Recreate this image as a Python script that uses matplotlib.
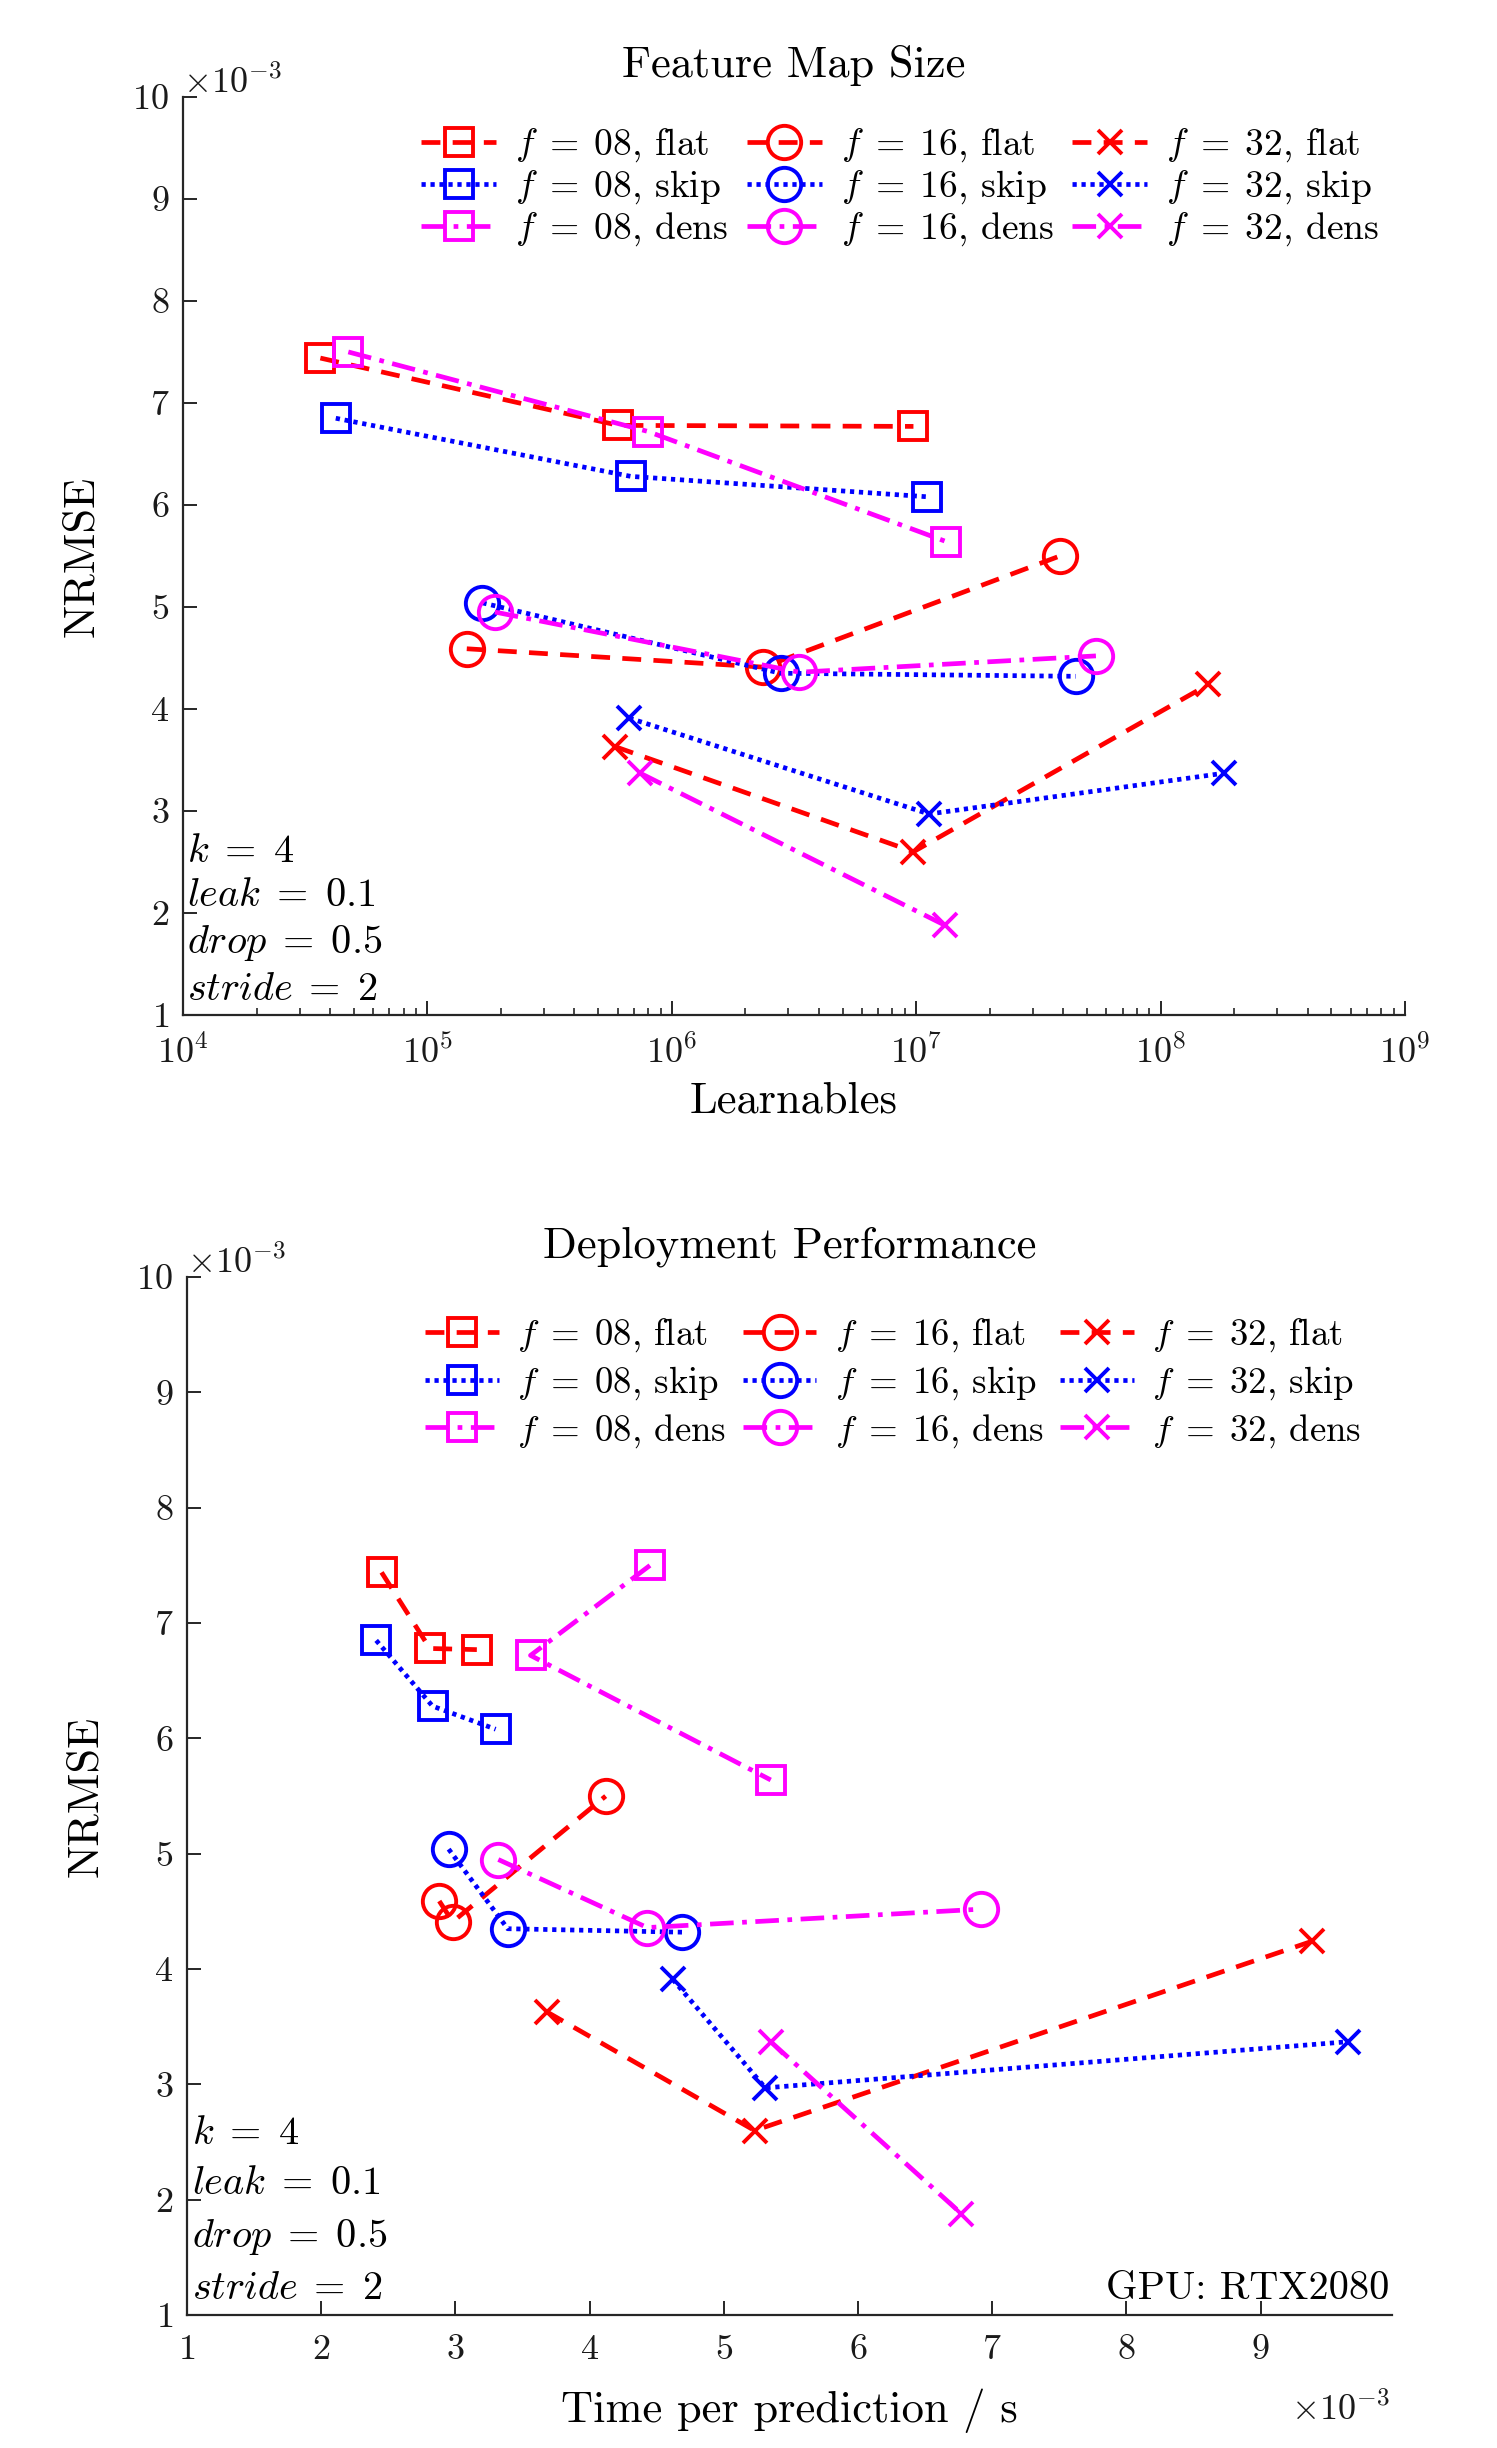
import numpy as np
import matplotlib
matplotlib.use('Agg')
import matplotlib.pyplot as plt
from matplotlib.ticker import ScalarFormatter, LogLocator, NullFormatter, FixedLocator

plt.rcParams['font.family'] = ['cmr10', 'DejaVu Serif']
plt.rcParams['mathtext.fontset'] = 'cm'
plt.rcParams['axes.formatter.use_mathtext'] = True

# ---------------- data ----------------
filters = ['08', '16', '32']
variants = ['flat', 'skip', 'dens']

# Learnables (number of parameters)
learn_08_flat = [3.65e4, 6.05e5, 9.75e6]
learn_08_skip = [4.22e4, 6.80e5, 1.11e7]
learn_08_dens = [4.75e4, 8.00e5, 1.33e7]
learn_16_flat = [1.45e5, 2.37e6, 3.88e7]
learn_16_skip = [1.68e5, 2.79e6, 4.50e7]
learn_16_dens = [1.89e5, 3.33e6, 5.44e7]
learn_32_flat = [5.87e5, 9.75e6, 1.57e8]
learn_32_skip = [6.70e5, 1.13e7, 1.82e8]
learn_32_dens = [7.43e5, 1.31e7]

# NRMSE (x 1e-3)
nrmse_08_flat = [7.44, 6.78, 6.77]
nrmse_08_skip = [6.85, 6.28, 6.08]
nrmse_08_dens = [7.50, 6.72, 5.64]
nrmse_16_flat = [4.59, 4.41, 5.50]
nrmse_16_skip = [5.04, 4.35, 4.32]
nrmse_16_dens = [4.95, 4.36, 4.52]
nrmse_32_flat = [3.63, 2.60, 4.24]
nrmse_32_skip = [3.91, 2.97, 3.37]
nrmse_32_dens = [3.37, 1.88]

# Time per prediction (x 1e-3 s)
time_08_flat = [2.45, 2.81, 3.16]
time_08_skip = [2.41, 2.83, 3.30]
time_08_dens = [4.45, 3.56, 5.35]
time_16_flat = [2.88, 2.98, 4.12]
time_16_skip = [2.95, 3.39, 4.69]
time_16_dens = [3.32, 4.43, 6.92]
time_32_flat = [3.68, 5.23, 9.38]
time_32_skip = [4.62, 5.31, 9.65]
time_32_dens = [5.35, 6.77]

learn = {('08', 'flat'): learn_08_flat, ('08', 'skip'): learn_08_skip, ('08', 'dens'): learn_08_dens,
         ('16', 'flat'): learn_16_flat, ('16', 'skip'): learn_16_skip, ('16', 'dens'): learn_16_dens,
         ('32', 'flat'): learn_32_flat, ('32', 'skip'): learn_32_skip, ('32', 'dens'): learn_32_dens}
nrmse = {('08', 'flat'): nrmse_08_flat, ('08', 'skip'): nrmse_08_skip, ('08', 'dens'): nrmse_08_dens,
         ('16', 'flat'): nrmse_16_flat, ('16', 'skip'): nrmse_16_skip, ('16', 'dens'): nrmse_16_dens,
         ('32', 'flat'): nrmse_32_flat, ('32', 'skip'): nrmse_32_skip, ('32', 'dens'): nrmse_32_dens}
times = {('08', 'flat'): time_08_flat, ('08', 'skip'): time_08_skip, ('08', 'dens'): time_08_dens,
         ('16', 'flat'): time_16_flat, ('16', 'skip'): time_16_skip, ('16', 'dens'): time_16_dens,
         ('32', 'flat'): time_32_flat, ('32', 'skip'): time_32_skip, ('32', 'dens'): time_32_dens}

# ---------------- style ----------------
colors = {'flat': '#FF0000', 'skip': '#0000FF', 'dens': '#FF00FF'}
markers = {'08': 's', '16': 'o', '32': 'x'}
msizes = {'08': 20, '16': 24, '32': 17}
lstyles = {'flat': (0, (4.0, 2.6)), 'skip': (0, (0.9, 1.0)), 'dens': (0, (5.0, 1.8, 1.0, 1.8))}
axcol = '#262626'

fig = plt.figure(figsize=(14.97, 24.48), dpi=100)
ax1 = fig.add_axes([0.1222, 0.5854, 0.8163, 0.375])
ax2 = fig.add_axes([0.1249, 0.0543, 0.805, 0.424])


def draw(ax, xdict, xscale):
    for f in filters:
        for v in variants:
            x = np.array(xdict[(f, v)]) * xscale
            y = np.array(nrmse[(f, v)]) * 1e-3
            ax.plot(x, y, color=colors[v], linestyle=lstyles[v], linewidth=3.4,
                    marker=markers[f], markersize=msizes[f], markerfacecolor='none',
                    markeredgewidth=2.8, markeredgecolor=colors[v],
                    label=r'$f\;=\;%s$, %s' % (f, v))


def style(ax):
    for s in ['top', 'right']:
        ax.spines[s].set_visible(False)
    for s in ['left', 'bottom']:
        ax.spines[s].set_color(axcol)
        ax.spines[s].set_linewidth(1.6)
    ax.tick_params(which='major', direction='in', length=10, width=1.4, color=axcol,
                   labelsize=26, labelcolor='#1a1a1a')
    ax.tick_params(axis='y', which='major', pad=10)
    ax.tick_params(axis='x', which='major', pad=14)
    ax.tick_params(which='minor', direction='in', length=5, width=1.2, color=axcol)
    ax.set_ylim(1e-3, 10e-3)
    ax.yaxis.set_major_locator(FixedLocator(np.arange(1, 11) * 1e-3))
    yf = ScalarFormatter(useMathText=True)
    yf.set_powerlimits((-3, -3))
    ax.yaxis.set_major_formatter(yf)
    ax.yaxis.get_offset_text().set_fontsize(26)
    ax.set_ylabel('NRMSE', fontsize=32, labelpad=22)


note = '$k\\;=\\;4$\n$leak\\;=\\;0.1$\n$drop\\;=\\;0.5$\n$stride\\;=\\;2$'

# ---- top ----
draw(ax1, learn, 1.0)
ax1.set_xscale('log')
ax1.set_xlim(1e4, 1e9)
ax1.xaxis.set_major_locator(LogLocator(base=10, numticks=10))
ax1.xaxis.set_minor_locator(LogLocator(base=10, subs=np.arange(2, 10), numticks=20))
ax1.xaxis.set_minor_formatter(NullFormatter())
style(ax1)
ax1.set_title('Feature Map Size', fontsize=32, pad=14)
ax1.set_xlabel('Learnables', fontsize=32, labelpad=8)
ax1.legend(ncol=3, loc='upper left', bbox_to_anchor=(0.195, 0.968), frameon=False,
           fontsize=27, handlelength=2.0, handletextpad=0.5, columnspacing=0.5,
           labelspacing=0.12, borderpad=0, borderaxespad=0)
ax1.text(0.003, 0.008, note,
         transform=ax1.transAxes, fontsize=29, ha='left', va='bottom', linespacing=1.3)

# ---- bottom ----
draw(ax2, times, 1e-3)
ax2.set_xlim(1e-3, 9.98e-3)
ax2.xaxis.set_major_locator(FixedLocator(np.arange(1, 10) * 1e-3))
xf = ScalarFormatter(useMathText=True)
xf.set_powerlimits((-3, -3))
ax2.xaxis.set_major_formatter(xf)
style(ax2)
ax2.xaxis.get_offset_text().set_visible(False)
ax2.text(0.998, -0.0906, r'$\times10^{-3}$', transform=ax2.transAxes, fontsize=26,
         ha='right', va='center', color='#1a1a1a')
ax2.set_title('Deployment Performance', fontsize=32, pad=14)
ax2.set_xlabel('Time per prediction / s', fontsize=32, labelpad=16)
ax2.legend(ncol=3, loc='upper left', bbox_to_anchor=(0.1975, 0.962), frameon=False,
           fontsize=26.5, handlelength=2.0, handletextpad=0.5, columnspacing=0.45,
           labelspacing=0.27, borderpad=0, borderaxespad=0)
ax2.text(0.004, 0.008, note,
         transform=ax2.transAxes, fontsize=29, ha='left', va='bottom', linespacing=1.5)
ax2.text(0.998, 0.008, 'GPU: RTX2080', transform=ax2.transAxes, fontsize=29,
         ha='right', va='bottom')

fig.savefig('out.png', dpi=100)
